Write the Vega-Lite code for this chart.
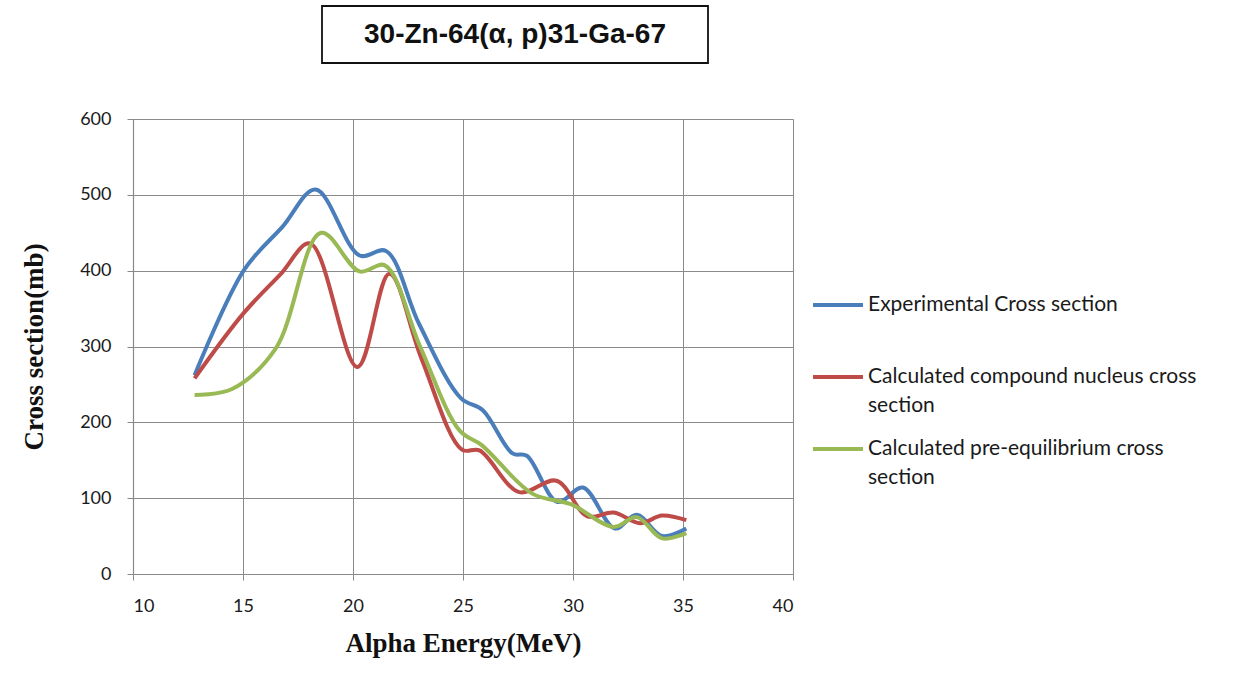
{
  "$schema": "https://vega.github.io/schema/vega-lite/v6.json",
  "padding": {"left": 20, "top": 5, "right": 5, "bottom": 5},
  "background": "white",
  "bounds": "flush",
  "spacing": 113,
  "vconcat": [
    {
      "bounds": "flush",
      "hconcat": [
        {
          "width": 169,
          "height": 57,
          "view": {"stroke": null},
          "data": {"values": [{"t": ""}]},
          "mark": {"type": "text", "text": ""}
        },
        {
          "width": 386,
          "height": 57,
          "view": {"stroke": "#111", "strokeWidth": 1.8},
          "data": {"values": [{"t": "30-Zn-64(α, p)31-Ga-67"}]},
          "mark": {"type": "text", "font": "Liberation Sans", "fontWeight": "bold", "fontSize": 28, "color": "#111"},
          "encoding": {
            "text": {"field": "t"},
            "x": {"field": "t", "type": "nominal", "axis": null},
            "y": {"field": "t", "type": "nominal", "axis": null}
          }
        }
      ]
    },
    {
      "width": 660,
      "height": 455,
      "view": {"stroke": null},
      "data": {
        "values": [
          {"series": "Experimental Cross section", "E": 12.8, "cs": 262},
          {"series": "Experimental Cross section", "E": 15.05, "cs": 401},
          {"series": "Experimental Cross section", "E": 16.8, "cs": 458},
          {"series": "Experimental Cross section", "E": 18.3, "cs": 507},
          {"series": "Experimental Cross section", "E": 20.3, "cs": 420},
          {"series": "Experimental Cross section", "E": 21.5, "cs": 426},
          {"series": "Experimental Cross section", "E": 23.0, "cs": 330},
          {"series": "Experimental Cross section", "E": 24.9, "cs": 232},
          {"series": "Experimental Cross section", "E": 25.9, "cs": 216},
          {"series": "Experimental Cross section", "E": 27.25, "cs": 159},
          {"series": "Experimental Cross section", "E": 27.9, "cs": 156},
          {"series": "Experimental Cross section", "E": 29.3, "cs": 95},
          {"series": "Experimental Cross section", "E": 30.45, "cs": 114},
          {"series": "Experimental Cross section", "E": 31.9, "cs": 60},
          {"series": "Experimental Cross section", "E": 32.9, "cs": 78},
          {"series": "Experimental Cross section", "E": 34.05, "cs": 50},
          {"series": "Experimental Cross section", "E": 35.15, "cs": 60},
          {"series": "Calculated compound nucleus  cross section", "E": 12.8, "cs": 258},
          {"series": "Calculated compound nucleus  cross section", "E": 15.0, "cs": 343},
          {"series": "Calculated compound nucleus  cross section", "E": 16.7, "cs": 395},
          {"series": "Calculated compound nucleus  cross section", "E": 18.05, "cs": 436},
          {"series": "Calculated compound nucleus  cross section", "E": 20.2, "cs": 273},
          {"series": "Calculated compound nucleus  cross section", "E": 21.65, "cs": 396},
          {"series": "Calculated compound nucleus  cross section", "E": 23.1, "cs": 285},
          {"series": "Calculated compound nucleus  cross section", "E": 24.95, "cs": 164},
          {"series": "Calculated compound nucleus  cross section", "E": 25.75, "cs": 163},
          {"series": "Calculated compound nucleus  cross section", "E": 27.55, "cs": 108},
          {"series": "Calculated compound nucleus  cross section", "E": 29.25, "cs": 123},
          {"series": "Calculated compound nucleus  cross section", "E": 30.65, "cs": 76},
          {"series": "Calculated compound nucleus  cross section", "E": 31.85, "cs": 81},
          {"series": "Calculated compound nucleus  cross section", "E": 33.05, "cs": 67},
          {"series": "Calculated compound nucleus  cross section", "E": 34.05, "cs": 77},
          {"series": "Calculated compound nucleus  cross section", "E": 35.15, "cs": 71},
          {"series": "Calculated pre-equilibrium  cross section", "E": 12.8, "cs": 236},
          {"series": "Calculated pre-equilibrium  cross section", "E": 14.5, "cs": 244},
          {"series": "Calculated pre-equilibrium  cross section", "E": 16.5, "cs": 298},
          {"series": "Calculated pre-equilibrium  cross section", "E": 18.55, "cs": 450},
          {"series": "Calculated pre-equilibrium  cross section", "E": 20.3, "cs": 399},
          {"series": "Calculated pre-equilibrium  cross section", "E": 21.45, "cs": 407},
          {"series": "Calculated pre-equilibrium  cross section", "E": 23.05, "cs": 300},
          {"series": "Calculated pre-equilibrium  cross section", "E": 24.85, "cs": 189},
          {"series": "Calculated pre-equilibrium  cross section", "E": 25.85, "cs": 170},
          {"series": "Calculated pre-equilibrium  cross section", "E": 28.15, "cs": 106},
          {"series": "Calculated pre-equilibrium  cross section", "E": 29.9, "cs": 92},
          {"series": "Calculated pre-equilibrium  cross section", "E": 31.85, "cs": 62},
          {"series": "Calculated pre-equilibrium  cross section", "E": 32.9, "cs": 75},
          {"series": "Calculated pre-equilibrium  cross section", "E": 34.05, "cs": 47},
          {"series": "Calculated pre-equilibrium  cross section", "E": 35.15, "cs": 54}
        ]
      },
      "mark": {"type": "line", "interpolate": "catmull-rom", "strokeWidth": 4},
      "encoding": {
        "x": {
          "field": "E", "type": "quantitative",
          "scale": {"domain": [10, 40], "nice": false},
          "axis": {"values": [10, 15, 20, 25, 30, 35, 40], "title": "Alpha Energy(MeV)", "titlePadding": 15, "labelPadding": 17}
        },
        "y": {
          "field": "cs", "type": "quantitative",
          "scale": {"domain": [0, 600], "nice": false},
          "axis": {"values": [0, 100, 200, 300, 400, 500, 600], "title": "Cross section(mb)", "titlePadding": 31, "labelPadding": 16}
        },
        "color": {
          "field": "series", "type": "nominal",
          "scale": {
            "domain": ["Experimental Cross section", "Calculated compound nucleus  cross section", "Calculated pre-equilibrium  cross section"],
            "range": ["#4a7ebb", "#be4b48", "#98b954"]
          },
          "legend": {
            "title": null,
            "orient": "none",
            "legendX": 678,
            "legendY": 272,
            "symbolType": "stroke",
            "symbolSize": 2500,
            "symbolStrokeWidth": 4,
            "labelFont": "Lato",
            "labelFontSize": 21,
            "labelColor": "#1a1a1a",
            "labelOffset": 3,
            "labelLimit": 400,
            "rowPadding": 6,
            "labelExpr": "datum.label == 'Calculated compound nucleus  cross section' ? ['Calculated compound nucleus  cross', 'section'] : datum.label == 'Calculated pre-equilibrium  cross section' ? ['Calculated pre-equilibrium  cross', 'section'] : [datum.label, ' ']"
          }
        }
      }
    }
  ],
  "config": {
    "style": {"guide-label": {"lineHeight": 29}},
    "axis": {
      "grid": true,
      "gridColor": "#8a8a8a",
      "gridWidth": 1,
      "domainColor": "#8a8a8a",
      "domainWidth": 1.2,
      "tickColor": "#8a8a8a",
      "tickSize": 6,
      "labelFont": "Lato",
      "labelFontSize": 18,
      "labelColor": "#1a1a1a",
      "titleFont": "Liberation Serif",
      "titleFontWeight": "bold",
      "titleFontSize": 27,
      "titleColor": "#111"
    }
  }
}
